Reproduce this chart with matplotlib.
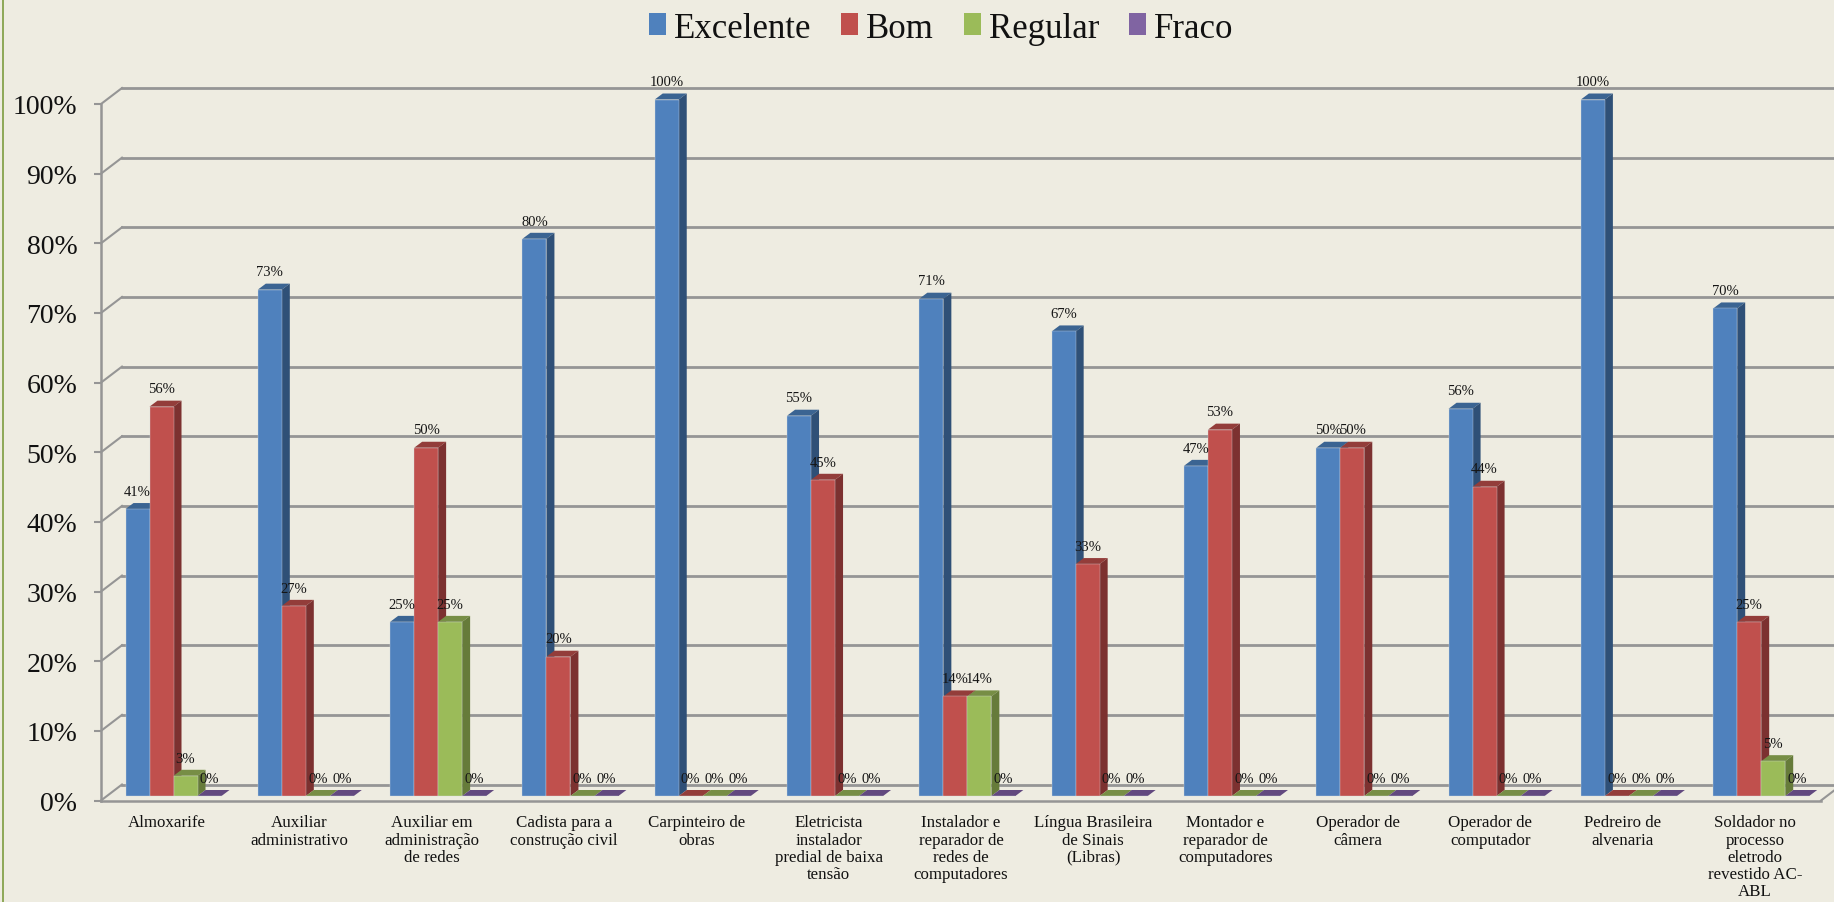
import numpy as np
import matplotlib
matplotlib.use('Agg')
import matplotlib.pyplot as plt
from matplotlib.patches import Polygon, Patch, Rectangle

plt.rcParams['font.family'] = ['Liberation Serif', 'DejaVu Serif']

categories = ['Almoxarife', 'Auxiliar\nadministrativo', 'Auxiliar em\nadministração\nde redes',
              'Cadista para a\nconstrução civil', 'Carpinteiro de\nobras',
              'Eletricista\ninstalador\npredial de baixa\ntensão',
              'Instalador e\nreparador de\nredes de\ncomputadores',
              'Língua Brasileira\nde Sinais\n(Libras)', 'Montador e\nreparador de\ncomputadores',
              'Operador de\ncâmera', 'Operador de\ncomputador', 'Pedreiro de\nalvenaria',
              'Soldador no\nprocesso\neletrodo\nrevestido AC-\nABL']
excelente = [41.2, 72.7, 25, 80, 100, 54.6, 71.4, 66.7, 47.4, 50, 55.6, 100, 70]
bom = [55.9, 27.3, 50, 20, 0, 45.4, 14.3, 33.3, 52.6, 50, 44.4, 0, 25]
regular = [2.9, 0, 25, 0, 0, 0, 14.3, 0, 0, 0, 0, 0, 5]
fraco = [0, 0, 0, 0, 0, 0, 0, 0, 0, 0, 0, 0, 0]
series_names = ['Excelente', 'Bom', 'Regular', 'Fraco']
y_ticks = [0, 10, 20, 30, 40, 50, 60, 70, 80, 90, 100]

series = [excelente, bom, regular, fraco]
front_colors = ['#4f81bd', '#c0504d', '#9bbb59', '#8064a2']
top_colors = ['#3b6492', '#933d3a', '#778e45', '#62497f']
side_colors = ['#2f5077', '#7c3130', '#667b3a', '#523c6b']
bg = '#eeece1'
grid_color = '#959595'

W, H = 1834, 903
fig = plt.figure(figsize=(W / 100, H / 100), dpi=100, facecolor=bg)
ax = fig.add_axes([101 / W, (H - 801.5) / H, 1720 / W, 696.5 / H], facecolor='none')
ax.set_xlim(-0.5, 12.5)
ax.set_ylim(0, 100)

px_x = 13 / 1720   # data units for one pixel
px_y = 100 / 696.5

# back wall lines and the diagonals that join them to the front axis
wall_dx = 21 * px_x
wall_dy = 16 * px_y
for t in y_ticks:
    ax.plot([-0.5, -0.5 + wall_dx], [t, t + wall_dy], color=grid_color, lw=1.5, clip_on=False, zorder=1)
    ax.plot([-0.5 + wall_dx, 12.5 + wall_dx], [t + wall_dy, t + wall_dy], color=grid_color, lw=2,
            clip_on=False, zorder=1)
ax.plot([12.5, 12.5 + wall_dx], [0, wall_dy], color=grid_color, lw=1.5, clip_on=False, zorder=1)

# bars: front face with ax.bar, top and side as polygons
bar_w = 24 * px_x
side_dx = 8 * px_x
side_dy = 6 * px_y
floor = 4.5 * px_y
group_shift = 0.048
x = np.arange(len(categories))

for k, vals in enumerate(series):
    lefts = x + group_shift + (k - 2) * bar_w
    z = 3 + k
    ax.bar(lefts, vals, bar_w, bottom=floor, align='edge', color=front_colors[k],
           edgecolor='#d5dbe0', linewidth=0.25, zorder=z + 0.2, clip_on=False)
    for l, v in zip(lefts, vals):
        top = floor + v
        r = l + bar_w
        ax.add_patch(Polygon([(l, top), (r, top), (r + side_dx, top + side_dy), (l + side_dx, top + side_dy)],
                             closed=True, fc=top_colors[k], ec='none', zorder=z, clip_on=False))
        if v > 0:
            ax.add_patch(Polygon([(r, floor), (r + side_dx, floor + side_dy), (r + side_dx, top + side_dy), (r, top)],
                                 closed=True, fc=side_colors[k], ec='none', zorder=z, clip_on=False))
        ax.annotate(f'{v:.0f}%', (l + bar_w / 2, top), xytext=(0, 12.8), textcoords='offset points',
                    ha='center', va='center', fontsize=10.5, color='#151515', zorder=20,
                    annotation_clip=False)

for s in ['top', 'right']:
    ax.spines[s].set_visible(False)
for s in ['left', 'bottom']:
    ax.spines[s].set_color(grid_color)
    ax.spines[s].set_linewidth(1.8)
    ax.spines[s].set_zorder(2)

ax.set_yticks(y_ticks)
ax.set_yticklabels([f'{t}%' for t in y_ticks], fontsize=20, color='#111111')
ax.tick_params(axis='y', length=5, width=1.5, color=grid_color, pad=12)
ax.set_xticks(x)
ax.set_xticklabels(categories, fontsize=12.2, color='#111111', linespacing=1.1)
ax.tick_params(axis='x', length=0, pad=10)

handles = [Patch(fc=c, ec='none', label=n) for c, n in zip(front_colors, series_names)]
fig.legend(handles=handles, loc='center', bbox_to_anchor=(941 / W, 1 - 29 / H), ncol=4, frameon=False,
           fontsize=25, handlelength=0.49, handleheight=0.6, handletextpad=0.23,
           columnspacing=0.86, labelcolor='#111111')

# green strip at the left edge of the slide
fig.add_artist(Rectangle((2.4 / W, 0), 1.8 / W, 1, transform=fig.transFigure, fc='#8fa95a', ec='none'))

fig.savefig('out.png', dpi=100, facecolor=bg)
